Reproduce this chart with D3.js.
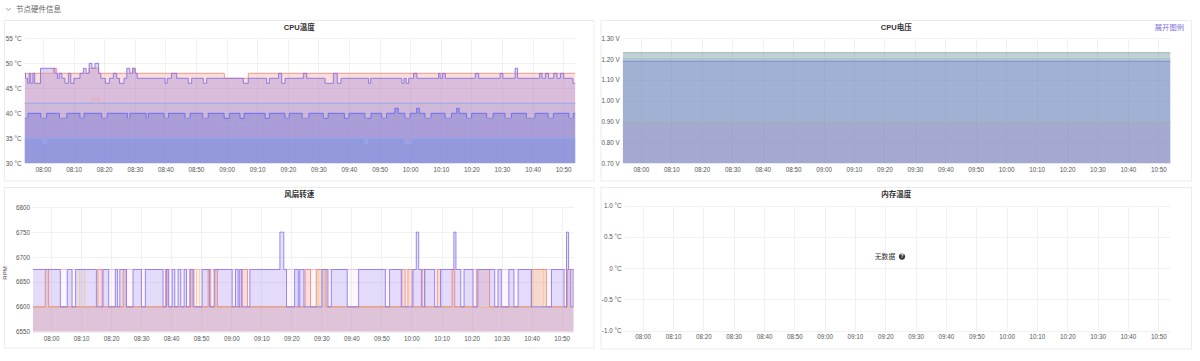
<!DOCTYPE html>
<meta charset="utf-8">
<style>
  body { margin: 0; background: #fff; }
  svg { font-family: "Liberation Sans", "Noto Sans CJK SC", sans-serif; }
  .tick text { fill: #555; font-size: 6.3px; font-family: "Liberation Sans", "Noto Sans CJK SC", sans-serif; }
  .grid line { stroke: #f1f1f1; stroke-width: 1; shape-rendering: crispEdges; }
  .panel-box { fill: #fff; stroke: #ececec; stroke-width: 1; }
  .title { font-size: 7.5px; font-weight: bold; fill: #333; font-family: "Liberation Sans", "Noto Sans CJK SC", sans-serif; }
</style>
<body>
<svg id="chart" width="1200" height="361"></svg>
<script src="https://d3js.org/d3.v7.min.js"></script>
<script>
// every series is a list of [minutes after 08:00, value]; each pair starts a step
var timeRange = [-6, 174];

// CPU温度 (°C)
var cpuTempTicks = [30, 35, 40, 45, 50, 55];
var cpuTempA = [[-6,48],[3.4,49],[4.5,48],[15.1,49],[18.2,48],[29.3,49],[30.1,48],[59.3,47],[67.1,48],[174,48]];
var cpuTempB = [[-6,48],[-5.7,47],[-5.0,46],[-4.5,48],[-4.0,46],[-3.3,48],[-2.7,46],[-0.8,49],[3.9,48],[4.7,47],[5.3,48],[6.2,47],[7.2,46],[8.3,48],[9.1,46],[10.1,47],[12.1,48],[13.2,49],[14.1,48],[15.1,50],[16.0,49],[17.0,50],[18.2,48],[18.9,47],[20.4,46],[21.7,47],[23.0,48],[24.1,47],[25.0,46],[26.5,47],[27.4,49],[28.4,48],[29.3,49],[30.1,48],[30.8,47],[39.9,46],[40.6,47],[42.0,48],[43.7,47],[47.5,46],[48.6,47],[52.4,46],[53.5,47],[65.5,46],[67.1,47],[73.1,46],[74.0,47],[77.0,48],[78.0,46],[79.1,47],[85.1,48],[86.2,47],[92.2,46],[94.9,48],[96.2,46],[97.4,47],[106.4,46],[107.1,47],[117.3,46],[118.0,47],[118.7,46],[119.5,47],[121.1,48],[122.2,47],[129.3,48],[129.8,47],[130.6,48],[131.5,47],[141.3,48],[142.4,47],[149.4,48],[150.3,47],[154.3,49],[155.1,47],[162.3,48],[163.1,47],[164.2,48],[165.2,47],[166.9,48],[168.0,47],[169.1,48],[170.2,47],[173.2,46],[174,46]];
var cpuTempC = [[-6,42],[174,42]];
var cpuTempD = [[-6,42],[16.1,43],[18.3,42],[174,42]];
var cpuTempE = [[-6,39],[-4.9,40],[-0.7,39],[1.2,40],[5.4,39],[7.8,40],[12.1,39],[13.4,40],[19.2,39],[21.0,40],[27.6,39],[28.4,40],[33.7,39],[34.4,40],[39.6,39],[41.0,40],[46.4,39],[48.1,40],[52.2,39],[54.0,40],[59.2,39],[60.9,40],[64.4,39],[65.7,40],[72.6,39],[74.0,40],[79.1,39],[80.5,40],[84.7,39],[86.9,40],[91.6,39],[93.2,40],[98.5,39],[100.0,40],[105.2,39],[107.2,40],[110.7,39],[112.3,40],[115.0,41],[116.1,40],[118.3,39],[120.0,40],[122.1,41],[123.0,40],[124.8,39],[126.8,40],[131.4,39],[133.5,40],[135.2,41],[136.0,40],[138.4,39],[140.1,40],[145.0,39],[147.1,40],[151.0,39],[153.1,40],[158.0,39],[160.8,40],[165.1,39],[166.8,40],[171.9,39],[173.3,40],[174,40]];
var cpuTempF = [[-6,39],[7.8,38],[8.8,39],[57.9,38],[62.2,39],[63.9,38],[68.8,39],[70.4,38],[74.2,39],[91.6,38],[93.2,39],[98.1,38],[99.8,39],[105.8,38],[108.0,39],[112.3,38],[113.9,39],[174,39]];
var cpuTempG = [[-6,35],[-0.1,34],[1.2,35],[105.2,34],[106.1,35],[118.3,34],[120.5,35],[174,35]];

// CPU电压 (V)
var voltTicks = [0.7, 0.8, 0.9, 1.0, 1.1, 1.2, 1.3];
var voltA = [[-6,1.231],[174,1.231]];
var voltB = [[-6,1.202],[174,1.202]];
var voltC = [[-6,1.19],[174,1.19]];
var voltD = [[-6,0.898],[174,0.898]];

// 风扇转速 (RPM)
var fanTicks = [6550, 6600, 6650, 6700, 6750, 6800];
var fanA = [[-6,6675],[3.1,6600],[5.4,6675],[7.0,6600],[8.2,6675],[15.1,6600],[17.3,6675],[19.2,6600],[21.4,6675],[22.1,6600],[22.9,6675],[25.1,6600],[27.3,6675],[30.1,6600],[31.4,6675],[37.3,6600],[38.4,6675],[39.2,6600],[40.3,6675],[41.2,6600],[42.3,6675],[43.2,6600],[44.3,6675],[45.1,6600],[46.2,6675],[47.3,6600],[50.3,6675],[52.8,6600],[54.3,6675],[60.3,6600],[61.4,6675],[62.3,6600],[62.8,6675],[63.6,6600],[66.2,6675],[76.2,6750],[77.5,6675],[78.4,6600],[81.1,6675],[82.3,6600],[82.8,6675],[84.2,6600],[90.2,6675],[92.2,6600],[93.3,6675],[98.6,6600],[102.4,6675],[111.3,6600],[112.7,6675],[116.6,6600],[120.5,6675],[121.6,6750],[122.4,6675],[123.5,6600],[124.4,6675],[127.7,6600],[129.7,6675],[134.1,6750],[134.8,6675],[136.4,6600],[137.5,6675],[140.5,6600],[142.1,6675],[147.7,6600],[148.8,6675],[149.9,6600],[152.4,6675],[154.1,6600],[155.5,6675],[159.9,6600],[166.6,6675],[170.8,6600],[171.6,6750],[172.3,6675],[173.0,6600],[173.8,6675],[174,6675]];
var fanB = [[-6,6600],[-1.9,6675],[-0.8,6600],[15.6,6675],[17.0,6600],[24.0,6675],[25.1,6600],[38.1,6675],[39.0,6600],[46.5,6675],[47.6,6600],[52.3,6675],[53.2,6600],[54.5,6675],[55.4,6600],[63.4,6675],[65.4,6600],[84.6,6675],[86.4,6600],[88.3,6675],[91.6,6600],[116.8,6675],[117.9,6600],[118.8,6675],[120.2,6600],[123.3,6675],[124.4,6600],[128.6,6675],[129.7,6600],[133.5,6675],[134.4,6600],[141.6,6675],[146.0,6600],[159.9,6675],[164.9,6600],[171.9,6675],[174,6675]];
var fanC = [[-6,6600],[9.5,6675],[11.2,6600],[48.4,6675],[49.5,6600],[88.9,6675],[91.1,6600],[160.5,6675],[164.0,6600],[174,6600]];
var fanD = [[-6,6675],[174,6675]];

// 内存温度 (°C) - no data
var memTicks = [-1, -0.5, 0, 0.5, 1];
var memTickLabels = ["-1.0 °C", "-0.5 °C", "0 °C", "0.5 °C", "1.0 °C"];

var base = new Date(2024, 0, 1, 8, 0, 0);
function toDate(m) { return new Date(+base + m * 60000); }

var svg = d3.select("#chart");

// section header
svg.append("path").attr("d", "M6.5,8.2 L8.5,10.4 L10.5,8.2").attr("fill", "none").attr("stroke", "#888").attr("stroke-width", 0.9);
svg.append("text").attr("x", 16).attr("y", 9.7).attr("dominant-baseline", "middle")
  .attr("font-size", 7.5).attr("fill", "#666").attr("font-family", "Noto Sans CJK SC").text("节点硬件信息");

var clipId = 0;
function drawPanel(p) {
  var g = svg.append("g");
  g.append("rect").attr("class", "panel-box")
    .attr("x", p.box[0]).attr("y", p.box[1]).attr("width", p.box[2]).attr("height", p.box[3]);
  g.append("text").attr("class", "title")
    .attr("x", p.box[0] + p.box[2] / 2).attr("y", p.box[1] + 7.6)
    .attr("text-anchor", "middle").attr("dominant-baseline", "middle").text(p.title);

  var x = d3.scaleTime().domain(timeRange.map(toDate)).range([p.left, p.right]);
  var y = d3.scaleLinear().domain(p.yDomain).range([p.bottom, p.top]);
  var xTicks = x.ticks(d3.timeMinute.every(10));

  var grid = g.append("g").attr("class", "grid");
  grid.selectAll(".v").data(xTicks).enter().append("line")
    .attr("x1", function (d) { return Math.round(x(d)) + 0.5; })
    .attr("x2", function (d) { return Math.round(x(d)) + 0.5; })
    .attr("y1", p.top).attr("y2", p.bottom);
  grid.selectAll(".h").data(p.yTicks).enter().append("line")
    .attr("x1", p.left).attr("x2", p.right)
    .attr("y1", function (d) { return Math.round(y(d)) + 0.5; })
    .attr("y2", function (d) { return Math.round(y(d)) + 0.5; });

  g.append("g").attr("transform", "translate(0," + p.bottom + ")")
    .call(d3.axisBottom(x).tickValues(xTicks).tickFormat(d3.timeFormat("%H:%M")).tickSize(0).tickPadding(p.xPad))
    .call(function (a) { a.select(".domain").remove(); });
  g.append("g").attr("transform", "translate(" + p.left + ",0)")
    .call(d3.axisLeft(y).tickValues(p.yTicks).tickFormat(p.yFormat).tickSize(0).tickPadding(3))
    .call(function (a) { a.select(".domain").remove(); });

  var id = "clip" + (clipId++);
  g.append("clipPath").attr("id", id).append("rect")
    .attr("x", p.left).attr("y", p.top - 3).attr("width", p.right - p.left).attr("height", p.bottom - p.top + 3);

  var area = d3.area().curve(d3.curveStepAfter)
    .x(function (d) { return x(toDate(d[0])); })
    .y0(p.bottom)
    .y1(function (d) { return y(d[1]); });
  var line = d3.line().curve(d3.curveStepAfter)
    .x(function (d) { return x(toDate(d[0])); })
    .y(function (d) { return y(d[1]); });

  var plot = g.append("g").attr("clip-path", "url(#" + id + ")");
  (p.series || []).forEach(function (s) {
    plot.append("path").datum(s.data).attr("d", area)
      .attr("fill", s.fill || s.color).attr("fill-opacity", s.op);
  });
  (p.series || []).forEach(function (s) {
    plot.append("path").datum(s.data).attr("d", line)
      .attr("fill", "none").attr("stroke", s.color).attr("stroke-width", 1)
      .attr("stroke-opacity", s.lineOp || 0.9);
  });
  return g;
}

drawPanel({
  box: [4.5, 20.5, 589.5, 160.5], title: "CPU温度",
  left: 24.6, right: 575.4, top: 38.3, bottom: 163.3, xPad: 4,
  yDomain: [30, 55], yTicks: cpuTempTicks,
  yFormat: function (d) { return d + " °C"; },
  series: [
    { data: cpuTempA, color: "#f0928a", op: 0.3 },
    { data: cpuTempB, color: "#8a72e0", fill: "#9070d8", op: 0.3 },
    { data: cpuTempD, color: "#e8a0b4", op: 0.08, lineOp: 0.6 },
    { data: cpuTempC, color: "#8eaef6", op: 0.15 },
    { data: cpuTempE, color: "#6c6cf0", fill: "#6a66d8", op: 0.35 },
    { data: cpuTempF, color: "#a9a9cc", op: 0.1, lineOp: 0.7 },
    { data: cpuTempG, color: "#88acf6", fill: "#6c90e8", op: 0.35 }
  ]
});

var voltPanel = drawPanel({
  box: [601, 20.5, 590.5, 160.5], title: "CPU电压",
  left: 622.7, right: 1170.5, top: 38.3, bottom: 163.3, xPad: 4,
  yDomain: [0.7, 1.3], yTicks: voltTicks,
  yFormat: function (d) { return d.toFixed(2) + " V"; },
  series: [
    { data: voltA, color: "#86b9b4", fill: "#6a8f9a", op: 0.42 },
    { data: voltB, color: "#a9bfd6", fill: "#8aa0d0", op: 0.08 },
    { data: voltC, color: "#7088d4", fill: "#5a6cd0", op: 0.28 },
    { data: voltD, color: "#a6b6a4", fill: "#c070c0", op: 0.12 }
  ]
});
voltPanel.append("text").attr("x", 1184).attr("y", 28.3).attr("text-anchor", "end")
  .attr("dominant-baseline", "middle").attr("font-size", 7.3).attr("fill", "#7f6fd8")
  .attr("font-family", "Noto Sans CJK SC").text("展开图例");

var fanPanel = drawPanel({
  box: [4.5, 187.5, 589.5, 160.5], title: "风扇转速",
  left: 33, right: 573.7, top: 207.3, bottom: 331.7, xPad: 5,
  yDomain: [6550, 6800], yTicks: fanTicks,
  yFormat: function (d) { return d; },
  series: [
    { data: fanD, color: "#ecb6ec", op: 0.12 },
    { data: fanC, color: "#f3c47e", op: 0.12, lineOp: 0.7 },
    { data: fanB, color: "#e8846f", op: 0.22, lineOp: 0.8 },
    { data: fanA, color: "#8c7cf0", op: 0.22 }
  ]
});
fanPanel.append("text").attr("transform", "translate(5.5,273) rotate(-90)")
  .attr("text-anchor", "middle").attr("dominant-baseline", "middle")
  .attr("font-size", 6).attr("fill", "#555").text("RPM");

var memPanel = drawPanel({
  box: [601, 187.5, 590.5, 161.5], title: "内存温度",
  left: 624.5, right: 1170.4, top: 205.7, bottom: 330.7, xPad: 4,
  yDomain: [-1, 1], yTicks: memTicks,
  yFormat: function (d, i) { return memTickLabels[i]; }
});
memPanel.append("text").attr("x", 885).attr("y", 256.7).attr("text-anchor", "middle")
  .attr("dominant-baseline", "middle").attr("font-size", 6.8).attr("fill", "#333")
  .attr("font-family", "Noto Sans CJK SC").text("无数据");
memPanel.append("circle").attr("cx", 902).attr("cy", 256.6).attr("r", 3.1).attr("fill", "#333");
memPanel.append("text").attr("x", 902).attr("y", 256.9).attr("text-anchor", "middle")
  .attr("dominant-baseline", "middle").attr("font-size", 5).attr("font-weight", "bold")
  .attr("fill", "#fff").text("?");
</script>
</body>
